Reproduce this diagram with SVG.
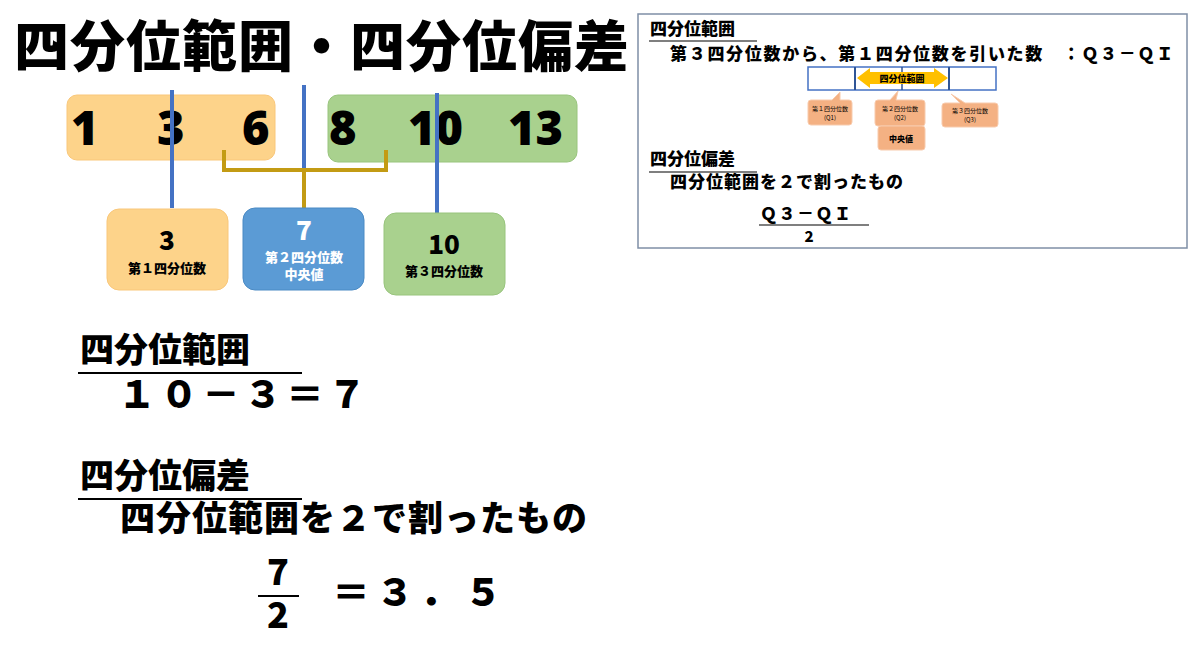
<svg xmlns="http://www.w3.org/2000/svg" width="1200" height="647" viewBox="0 0 1200 647">
<style>
text{font-family:"Noto Sans CJK JP","Noto Sans",sans-serif;fill:#000}
.b{font-weight:900}
.num{font-family:"Open Sans","Noto Sans CJK JP",sans-serif;font-weight:800;font-size:47px}
.ln{stroke:#4472c4;stroke-width:4}
.pk{fill:#f4b183;stroke:#f8cbad}
</style>
<rect width="1200" height="647" fill="#fff"/>
<text x="14" y="66" class="b" font-size="55" letter-spacing="1">四分位範囲・四分位偏差</text>
<g id="lower-half">
<rect x="67" y="95" width="208" height="65" rx="10" fill="#fdd38a" stroke="#f9c77a"/>
<text x="71" y="145" class="num">1</text><text x="157" y="145" class="num">3</text><text x="242" y="145" class="num">6</text>
</g>
<g id="upper-half">
<rect x="328" y="95" width="249" height="67" rx="10" fill="#a9d18e" stroke="#98c47d"/>
<text x="329" y="145" class="num">8</text><text x="408" y="145" class="num">10</text><text x="508" y="145" class="num">13</text>
</g>
<g id="connectors" fill="none">
<line x1="172" y1="90" x2="172" y2="208" class="ln"/>
<line x1="304" y1="85" x2="304" y2="172" class="ln"/>
<line x1="437" y1="93" x2="437" y2="213" class="ln"/>
<path d="M224 150V170H386V150M304 170V208" stroke="#c39b14" stroke-width="4"/>
</g>
<g id="q1">
<rect x="107" y="209" width="121" height="81" rx="12" fill="#fdd38a" stroke="#f9c77a"/>
<text x="167" y="250" class="b" font-size="26" text-anchor="middle">3</text>
<text x="167" y="273" class="b" font-size="13" text-anchor="middle">第１四分位数</text>
</g>
<g id="q2">
<rect x="243" y="208" width="121" height="82" rx="12" fill="#5b9bd5" stroke="#4a8ac4"/>
<text x="304" y="240" class="b" font-size="26" text-anchor="middle" style="fill:#fff">7</text>
<text x="304" y="262" class="b" font-size="13" text-anchor="middle" style="fill:#fff">第２四分位数</text>
<text x="304" y="279" class="b" font-size="13" text-anchor="middle" style="fill:#fff">中央値</text>
</g>
<g id="q3">
<rect x="384" y="213" width="121" height="82" rx="12" fill="#a9d18e" stroke="#98c47d"/>
<text x="444" y="254" class="b" font-size="26" text-anchor="middle">10</text>
<text x="444" y="276" class="b" font-size="13" text-anchor="middle">第３四分位数</text>
</g>
<g id="bottom-text">
<text x="80" y="362" class="b" font-size="34">四分位範囲</text>
<line x1="78" y1="373" x2="302" y2="373" stroke="#000" stroke-width="2"/>
<text x="118" y="408" class="b" font-size="38" letter-spacing="4">１０－３＝７</text>
<text x="80" y="488" class="b" font-size="34">四分位偏差</text>
<line x1="78" y1="499" x2="302" y2="499" stroke="#000" stroke-width="2"/>
<text x="120" y="531" class="b" font-size="35" letter-spacing="1">四分位範囲を２で割ったもの</text>
<text x="278" y="585" class="b" font-size="36" text-anchor="middle">7</text>
<line x1="258" y1="596" x2="299" y2="596" stroke="#000" stroke-width="2"/>
<text x="278" y="628" class="b" font-size="36" text-anchor="middle">2</text>
<text x="332" y="606" class="b" font-size="38" letter-spacing="6">＝３．５</text>
</g>
<g id="summary">
<rect x="638" y="14" width="549" height="234" fill="#fff" stroke="#7f8fa6" stroke-width="1.5"/>
<text x="650" y="35" class="b" font-size="17">四分位範囲</text>
<line x1="649" y1="41" x2="757" y2="41" stroke="#555" stroke-width="1.5"/>
<text x="670" y="60" class="b" font-size="17" letter-spacing="1.7">第３四分位数から、第１四分位数を引いた数　：Ｑ３－ＱＩ</text>
<rect x="808" y="67" width="188" height="23" fill="#fff" stroke="#4472c4" stroke-width="1.5"/>
<line x1="855" y1="67" x2="855" y2="90" stroke="#2f5597" stroke-width="2"/>
<line x1="902" y1="67" x2="902" y2="90" stroke="#2f5597" stroke-width="1.5"/>
<line x1="949" y1="67" x2="949" y2="90" stroke="#2f5597" stroke-width="2"/>
<path d="M857 78L870 68V72H934V68L948 78L934 88V84H870V88Z" fill="#ffc000"/>
<text x="902" y="82" class="b" font-size="9" text-anchor="middle">四分位範囲</text>
<path class="pk" d="M811 100H832L840 92L840 100H849Q852 100 852 103V122Q852 125 849 125H811Q808 125 808 122V103Q808 100 811 100Z"/>
<path class="pk" d="M878 100H890L898 91L896 100H922Q925 100 925 103V123Q925 126 922 126H878Q875 126 875 123V103Q875 100 878 100Z"/>
<path class="pk" d="M945 103H960L951 94L965 103H995Q998 103 998 106V124Q998 127 995 127H945Q942 127 942 124V106Q942 103 945 103Z"/>
<rect class="pk" x="878" y="126" width="47" height="24" rx="3"/>
<text x="830" y="111" font-size="6" text-anchor="middle">第１四分位数</text><text x="830" y="120" font-size="6" text-anchor="middle">(Q1)</text>
<text x="900" y="111" font-size="6" text-anchor="middle">第２四分位数</text><text x="900" y="120" font-size="6" text-anchor="middle">(Q2)</text>
<text x="970" y="113" font-size="6" text-anchor="middle">第３四分位数</text><text x="970" y="122" font-size="6" text-anchor="middle">(Q3)</text>
<text x="901" y="142" class="b" font-size="8" text-anchor="middle">中央値</text>
<text x="650" y="165" class="b" font-size="17">四分位偏差</text>
<line x1="649" y1="172" x2="757" y2="172" stroke="#555" stroke-width="1.5"/>
<text x="670" y="188" class="b" font-size="17" letter-spacing="1">四分位範囲を２で割ったもの</text>
<text x="760" y="220" class="b" font-size="17" letter-spacing="1.5">Ｑ３－ＱＩ</text>
<line x1="759" y1="225" x2="869" y2="225" stroke="#555" stroke-width="1.5"/>
<text x="809" y="242" class="b" font-size="15" text-anchor="middle">2</text>
</g>
</svg>
